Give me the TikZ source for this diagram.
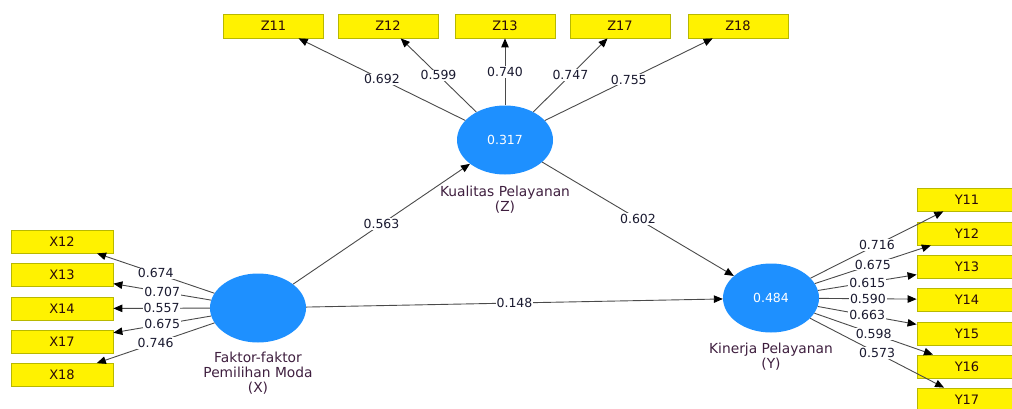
\documentclass[tikz,border=0pt]{standalone}
\usepackage{fontspec}
\setmainfont{DejaVu Sans}
\usetikzlibrary{shapes.geometric,arrows.meta}
\definecolor{lvblue}{HTML}{1E90FF}
\definecolor{boxborder}{HTML}{B8B800}
\definecolor{boxtext}{HTML}{2A0A0A}
\definecolor{lvtext}{HTML}{3F1F3F}
\definecolor{coeftext}{HTML}{1A1A30}
\definecolor{linegray}{HTML}{4A4A4A}
\begin{document}
\begin{tikzpicture}[x=1pt,y=-1pt,
  lv/.style={ellipse,fill=lvblue,draw=none,minimum width=96pt,minimum height=69pt,inner sep=0pt,text=white,font=\fontsize{12.5}{14}\selectfont},
  ind/.style={rectangle,fill=yellow,draw=boxborder,line width=0.8pt,minimum width=100pt,minimum height=23pt,inner sep=0pt,font=\fontsize{13}{15}\selectfont,text=boxtext},
  lvname/.style={align=center,font=\fontsize{13.8}{15}\selectfont,text=lvtext,inner sep=0pt,anchor=north},
  conn/.style={draw=linegray,line width=0.9pt,-{Triangle[length=9pt,width=7.5pt,color=black]}},
  coef/.style={fill=white,inner sep=1pt,font=\fontsize{12.5}{14}\selectfont,text=coeftext}
]
\useasboundingbox (0,0) rectangle (1012,408);
\clip (0,0) rectangle (1012,408);

% latent variables
\node[lv] (X) at (258,308) {};
\node[lv] (Z) at (505,140) {0.317};
\node[lv] (Y) at (771,298) {0.484};

\node[lvname] (XL) at (258,352) {Faktor-faktor\\Pemilihan Moda\\(X)};
\node[lvname] (ZL) at (505,186) {Kualitas Pelayanan\\(Z)};
\node[lvname] (YL) at (771,343) {Kinerja Pelayanan\\(Y)};

% indicators Z
\node[ind,minimum height=24pt] (Z11) at (273.5,26) {Z11};
\node[ind,minimum height=24pt] (Z12) at (388,26) {Z12};
\node[ind,minimum height=24pt] (Z13) at (505,26) {Z13};
\node[ind,minimum height=24pt] (Z17) at (620,26) {Z17};
\node[ind,minimum height=24pt] (Z18) at (738,26) {Z18};

% indicators X
\node[ind,minimum width=102pt] (X12) at (62,241.5) {X12};
\node[ind,minimum width=102pt] (X13) at (62,275) {X13};
\node[ind,minimum width=102pt] (X14) at (62,308.5) {X14};
\node[ind,minimum width=102pt] (X17) at (62,341.5) {X17};
\node[ind,minimum width=102pt] (X18) at (62,375) {X18};

% indicators Y
\node[ind] (Y11) at (967,199.5) {Y11};
\node[ind] (Y12) at (967,233.5) {Y12};
\node[ind] (Y13) at (967,266.5) {Y13};
\node[ind] (Y14) at (967,299.5) {Y14};
\node[ind] (Y15) at (967,333.5) {Y15};
\node[ind] (Y16) at (967,366.5) {Y16};
\node[ind] (Y17) at (967,399.5) {Y17};

% structural paths
\draw[conn] (X) -- node[coef,pos=0.5] {0.563} (Z);
\draw[conn] (X) -- node[coef,pos=0.5] {0.148} (Y);
\draw[conn] (Z) -- node[coef,pos=0.5] {0.602} (Y);

% loadings Z
\draw[conn] (Z) -- node[coef,pos=0.5] {0.692} (Z11);
\draw[conn] (Z) -- node[coef,pos=0.5] {0.599} (Z12);
\draw[conn] (Z) -- node[coef,pos=0.5] {0.740} (Z13);
\draw[conn] (Z) -- node[coef,pos=0.5] {0.747} (Z17);
\draw[conn] (Z) -- node[coef,pos=0.5] {0.755} (Z18);

% loadings X
\draw[conn] (X) -- node[coef,pos=0.5] {0.674} (X12);
\draw[conn] (X) -- node[coef,pos=0.5] {0.707} (X13);
\draw[conn] (X) -- node[coef,pos=0.5] {0.557} (X14);
\draw[conn] (X) -- node[coef,pos=0.5] {0.675} (X17);
\draw[conn] (X) -- node[coef,pos=0.5] {0.746} (X18);

% loadings Y
\draw[conn] (Y) -- node[coef,pos=0.5] {0.716} (Y11);
\draw[conn] (Y) -- node[coef,pos=0.5] {0.675} (Y12);
\draw[conn] (Y) -- node[coef,pos=0.5] {0.615} (Y13);
\draw[conn] (Y) -- node[coef,pos=0.5] {0.590} (Y14);
\draw[conn] (Y) -- node[coef,pos=0.5] {0.663} (Y15);
\draw[conn] (Y) -- node[coef,pos=0.5] {0.598} (Y16);
\draw[conn] (Y) -- node[coef,pos=0.5] {0.573} (Y17);
\end{tikzpicture}
\end{document}
